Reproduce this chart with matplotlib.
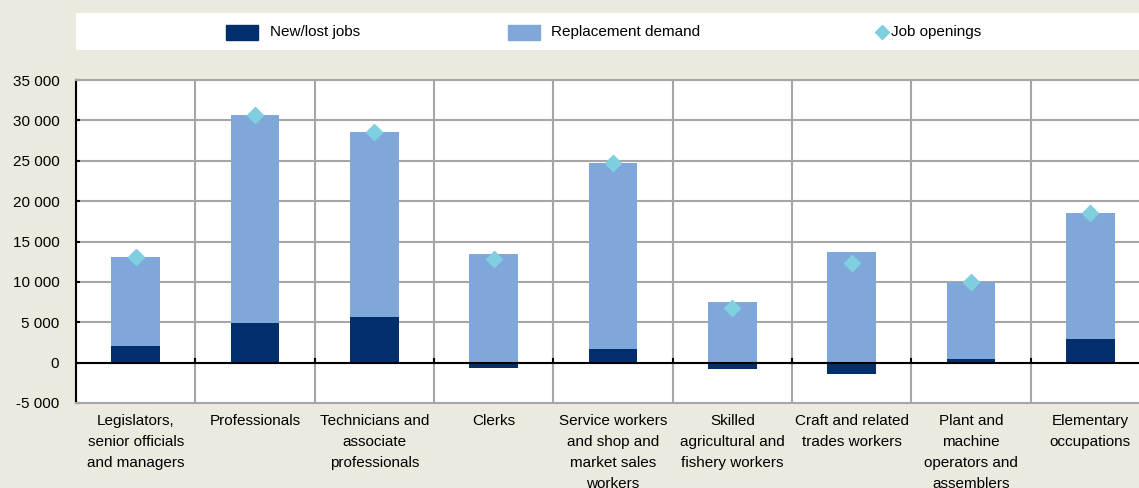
import numpy as np
import matplotlib
matplotlib.use("Agg")
import matplotlib.pyplot as plt
from matplotlib.patches import Rectangle

plt.rcParams["font.family"] = ["Liberation Sans", "DejaVu Sans"]

categories = [
    "Legislators,\nsenior officials\nand managers",
    "Professionals",
    "Technicians and\nassociate\nprofessionals",
    "Clerks",
    "Service workers\nand shop and\nmarket sales\nworkers",
    "Skilled\nagricultural and\nfishery workers",
    "Craft and related\ntrades workers",
    "Plant and\nmachine\noperators and\nassemblers",
    "Elementary\noccupations",
]
new_lost = [2000, 4900, 5700, -670, 1650, -740, -1360, 400, 2900]
replacement = [11100, 25800, 22900, 13500, 23050, 7550, 13700, 9600, 15650]
job_openings = [13100, 30700, 28600, 12830, 24700, 6810, 12340, 10000, 18550]

yticks = [-5000, 0, 5000, 10000, 15000, 20000, 25000, 30000, 35000]

BG = "#ECE9DF"
DARK = "#002F6C"
LIGHT = "#7FA7D9"
DIAM = "#7FCFE0"
GRID = "#A6A6A6"
FS = 11

fig = plt.figure(figsize=(11.39, 4.88), dpi=100, facecolor=BG)

# main axes (right edge runs past the figure, as in the source image)
ax = fig.add_axes([76 / 1139, 85 / 488, 1074 / 1139, 323 / 488])
ax.set_facecolor("white")

x = np.arange(len(categories))
new_arr = np.array(new_lost)
rep_bottom = np.clip(new_arr, 0, None)

ax.bar(x, new_lost, width=0.41, color=DARK, zorder=3)
ax.bar(x, replacement, bottom=rep_bottom, width=0.41, color=LIGHT, zorder=3)
ax.plot(x, job_openings, linestyle="none", marker="D", markersize=8,
        color=DIAM, markeredgecolor=DIAM, zorder=4)

ax.set_xlim(-0.5, len(categories) - 0.5)
ax.set_ylim(-5000, 35000)
ax.set_yticks(yticks)
ax.set_yticklabels([f"{v:,}".replace(",", " ") for v in yticks], fontsize=FS)
ax.set_xticks(x)
ax.set_xticklabels(categories, fontsize=FS, linespacing=1.63, va="top")
ax.tick_params(axis="x", length=0, pad=8)
ax.tick_params(axis="y", direction="in", length=3, width=1.5, color="black", pad=12)

# grid: horizontal at ticks, vertical at category boundaries
ax.set_xticks(np.arange(len(categories) + 1) - 0.5, minor=True)
ax.tick_params(axis="x", which="minor", length=0)
ax.grid(axis="y", which="major", color=GRID, linewidth=1.5, zorder=0)
ax.grid(axis="x", which="minor", color=GRID, linewidth=1.5, zorder=0)
ax.set_axisbelow(True)

ax.axhline(0, color="black", linewidth=1.5, zorder=5)
bounds = np.arange(1, len(categories)) - 0.5
ax.vlines(bounds, 0, 600, color="black", linewidth=1.5, zorder=5)

for s in ["top", "bottom"]:
    ax.spines[s].set_color(GRID)
    ax.spines[s].set_linewidth(1.5)
ax.spines["right"].set_visible(False)
ax.spines["left"].set_color("black")
ax.spines["left"].set_linewidth(1.5)

# legend band
lax = fig.add_axes([76 / 1139, (488 - 50) / 488, 1 - 76 / 1139, 37 / 488])
lax.set_xlim(76, 1139)
lax.set_ylim(50, 13)
lax.set_facecolor("white")
lax.set_xticks([])
lax.set_yticks([])
for s in lax.spines.values():
    s.set_visible(False)

lax.add_patch(Rectangle((226, 25), 32, 15, color=DARK))
lax.text(270, 32, "New/lost jobs", fontsize=FS, va="center", ha="left")
lax.add_patch(Rectangle((508, 25), 32, 15, color=LIGHT))
lax.text(551, 32, "Replacement demand", fontsize=FS, va="center", ha="left")
lax.plot([882], [32], marker="D", markersize=7, color=DIAM, linestyle="none")
lax.text(891, 32, "Job openings", fontsize=FS, va="center", ha="left")

fig.savefig("out.png", dpi=100, facecolor=BG)
